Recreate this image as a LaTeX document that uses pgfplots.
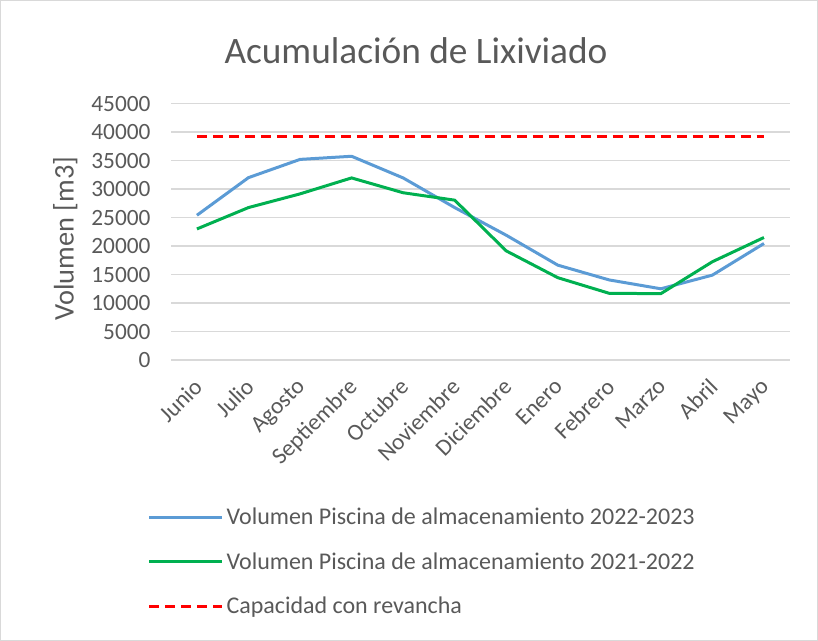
\documentclass[border=0pt]{standalone}
\usepackage{pgfplots}
\pgfplotsset{compat=1.18}
\usepackage{fontspec}
\setmainfont{Carlito}
\definecolor{SerieAzul}{HTML}{5B9BD5}
\definecolor{SerieVerde}{HTML}{00B050}
\definecolor{Rojo}{HTML}{FF0000}
\definecolor{Rejilla}{HTML}{D9D9D9}
\definecolor{Texto}{HTML}{595959}

\begin{document}
\begin{tikzpicture}[x=0.75pt,y=0.75pt]
\draw[Rejilla] (0,0) rectangle (818,640);
\useasboundingbox (0,0) rectangle (818,640);
\node[Texto, font=\fontsize{28}{32}\selectfont] at (416,590) {Acumulación de Lixiviado};
\begin{axis}[
  at={(128.25pt,210pt)}, anchor=south west,
  scale only axis, width=464.25pt, height=192.5pt,
  xmin=-0.5, xmax=11.5, ymin=0, ymax=45000,
  xtick={0,...,11},
  xticklabels={Junio,Julio,Agosto,Septiembre,Octubre,Noviembre,Diciembre,Enero,Febrero,Marzo,Abril,Mayo},
  ytick={0,5000,...,45000},
  scaled y ticks=false,
  ymajorgrids, grid style={Rejilla, line width=0.9pt},
  axis x line*=bottom, axis y line*=left,
  x axis line style={Rejilla, line width=0.9pt, -},
  y axis line style={draw=none},
  major tick length=0pt,
  tick label style={Texto, font=\fontsize{17.5}{20}\selectfont},
  yticklabel style={xshift=-12pt, /pgf/number format/.cd, 1000 sep={}, assume math mode=true},
  xticklabel style={rotate=45, anchor=north east, inner sep=1pt, xshift=-10.4pt, yshift=-5.4pt},
  ylabel={Volumen [m3]}, ylabel style={Texto, font=\fontsize{21.3}{24}\selectfont, yshift=3.5pt, xshift=-5pt},
  legend style={at={(-0.045,-0.555)}, anchor=north west, draw=none, fill=none,
    font=\fontsize{18}{20}\selectfont, text=Texto, row sep=15.5pt, legend cell align=left},
  legend image code/.code={\draw[#1] (0pt,0pt) -- (52pt,0pt); \path (0pt,0pt) -- (55pt,0pt);},
]
\addplot[SerieAzul, line width=2.25pt, line join=round] coordinates {
  (0,25400) (1,32000) (2,35200) (3,35750) (4,31950) (5,26750)
  (6,21900) (7,16650) (8,14050) (9,12500) (10,14900) (11,20450)
};
\addlegendentry{Volumen Piscina de almacenamiento 2022-2023}
\addplot[SerieVerde, line width=2.25pt, line join=round] coordinates {
  (0,23000) (1,26750) (2,29150) (3,31950) (4,29350) (5,28050)
  (6,19150) (7,14450) (8,11700) (9,11650) (10,17250) (11,21500)
};
\addlegendentry{Volumen Piscina de almacenamiento 2021-2022}
\addplot[Rojo, line width=2.25pt, dash pattern=on 7.5pt off 4.5pt] coordinates {
  (0,39200) (11,39200)
};
\addlegendentry{Capacidad con revancha}
\end{axis}
\end{tikzpicture}
\end{document}
